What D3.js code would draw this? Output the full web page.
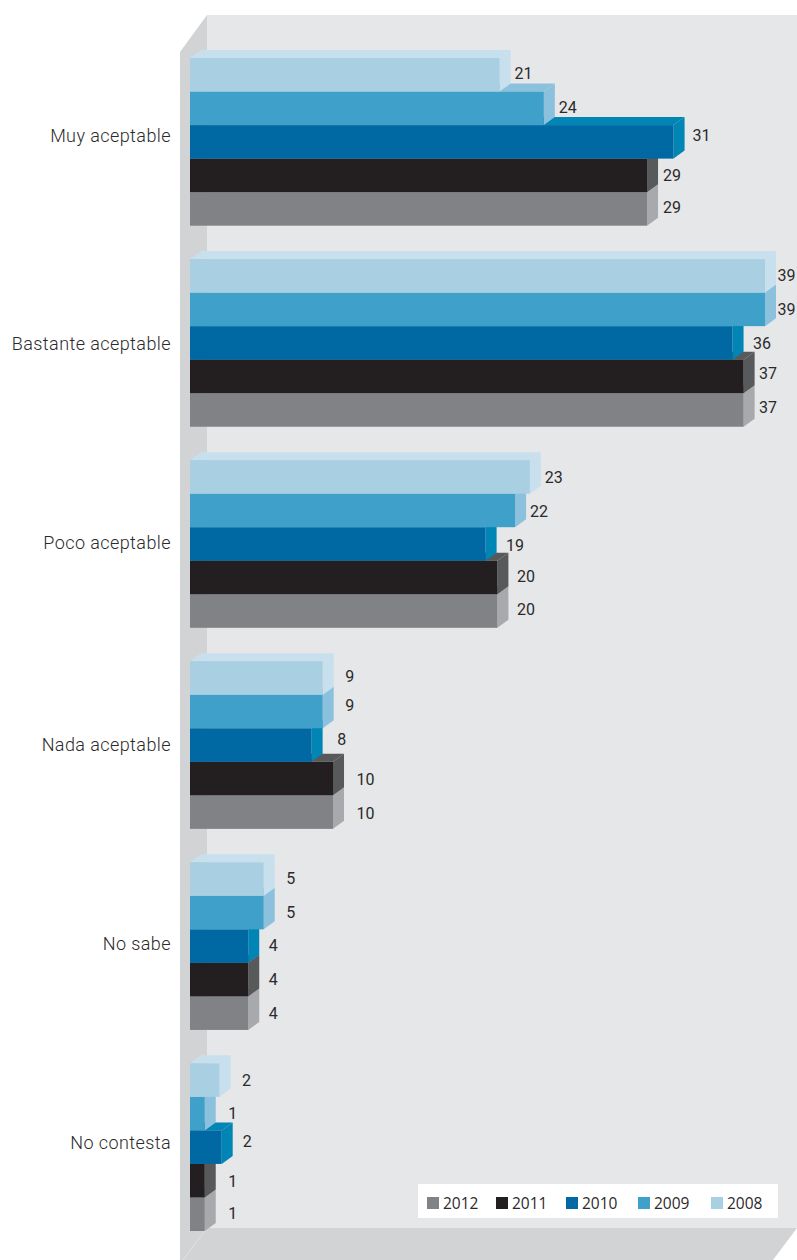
<!DOCTYPE html>
<html><head><meta charset="utf-8">
<script src="https://cdn.jsdelivr.net/npm/d3@7/dist/d3.min.js"></script>
<style>html,body{margin:0;background:#fff}svg{display:block}</style></head>
<body><svg id="c" width="797" height="1260"></svg>
<script>
const categories = ["Muy aceptable","Bastante aceptable","Poco aceptable","Nada aceptable","No sabe","No contesta"];
const years = ["2008","2009","2010","2011","2012"];
const legendYears = ["2012","2011","2010","2009","2008"];
// printed labels
const labels2008 = [21,39,23,9,5,2];
const labels2009 = [24,39,22,9,5,1];
const labels2010 = [31,36,19,8,4,2];
const labels2011 = [29,37,20,10,4,1];
const labels2012 = [29,37,20,10,4,1];
// bar lengths as drawn (the picture's bars do not always match the printed labels)
const drawn2008 = [21,39,23.05,9,5,2];
const drawn2009 = [24,39,22.05,9,5,1];
const drawn2010 = [32.8,36.8,20.05,8.25,3.95,2.15];
const drawn2011 = [31,37.55,20.85,9.7,3.95,1];
const drawn2012 = [31,37.55,20.85,9.7,3.95,1];

const labelsBy = [labels2008,labels2009,labels2010,labels2011,labels2012];
const drawnBy = [drawn2008,drawn2009,drawn2010,drawn2011,drawn2012];

// layout
const front = ["#a9cfe2","#3fa1c9","#0069a3","#231f20","#808285"];
const side  = ["#c8dfed","#8cc1de","#0085b5","#58595b","#a7a9ac"];
const legendColor = {"2012":"#808285","2011":"#231f20","2010":"#0069a3","2009":"#3fa1c9","2008":"#a9cfe2"};
const labelGap = [[15,15,19,16,16],[12.5,12.5,20.5,15.5,15.5],[15,15,20.5,19.5,19.5],[22.5,22.5,25.5,23.5,23.5],[22.5,22.5,20.5,20.5,20.5],[22.5,23.5,21,23.5,23.5]];
const labelLift = [[1,1,6,0,1],[0,0,-1,3,2],[-1,-1,-2,1,2],[1,6,6,-1,-1],[1,0,1,0,0],[0,0,6,-1,1]];
const categoryLift = [6,-1,0.5,0,2,4];
const DX=11, DY=8;

const svg = d3.select("#c");
const x = d3.scaleLinear().domain([0,39]).range([190,765]);
const y0 = d3.scaleBand().domain(categories).range([58,1231]).paddingInner(0.166).paddingOuter(0);
const y1 = d3.scaleBand().domain(years).range([0,y0.bandwidth()]);
const poly = (pts,f)=>svg.append("polygon").attr("points",pts.map(p=>p.join(",")).join(" ")).attr("fill",f);

// panel
svg.append("rect").attr("x",207).attr("y",15).attr("width",590).attr("height",1213).attr("fill","#e6e7e8");
poly([[180,52],[207,15],[207,1260],[180,1260]],"#d1d3d4");
poly([[207,1228],[797,1228],[773,1260],[183,1260]],"#d1d3d4");
svg.append("line").attr("x1",207).attr("y1",1228).attr("x2",183).attr("y2",1260).attr("stroke","#eeeeef").attr("stroke-width",.6);

// bars, lowest series first so upper fronts overlap
categories.forEach((c,g)=>{
  for(let s=years.length-1;s>=0;s--){
    const h=y1.bandwidth(), t=y0(c)+y1(years[s]), b=t+h;
    const l=x(0), r=x(drawnBy[s][g]);
    poly([[l,t],[l+DX,t-DY],[r+DX,t-DY],[r,t]],side[s]);
    poly([[r,t],[r+DX,t-DY],[r+DX,b-DY],[r,b]],side[s]);
    svg.append("rect").attr("x",l).attr("y",t).attr("width",r-l).attr("height",h).attr("fill",front[s]);
  }
});
// value labels
categories.forEach((c,g)=>{
  years.forEach((yr,s)=>{
    svg.append("text").attr("x",x(drawnBy[s][g])+labelGap[g][s])
      .attr("y",y0(c)+y1(yr)+y1.bandwidth()/2+5.5-labelLift[g][s])
      .attr("font-family","Roboto").attr("font-size",16).attr("fill","#2b2a2b").attr("text-anchor","start")
      .text(labelsBy[s][g]);
  });
});
// category axis
const yAxis = d3.axisLeft(y0).tickSize(0).tickPadding(0);
const ax = svg.append("g").attr("transform","translate(171,0)").call(yAxis);
ax.select(".domain").remove();
ax.selectAll("text").attr("font-family","Roboto").attr("font-weight",300).attr("font-size",18).attr("letter-spacing",0.42).attr("fill","#2b2a2b").attr("dy","0.32em")
  .attr("y",(d,i)=>-categoryLift[i]);

// legend
svg.append("rect").attr("x",418).attr("y",1184).attr("width",360).attr("height",34).attr("fill","#fff");
const legendX = {"2012":427,"2011":496,"2010":566,"2009":638,"2008":711};
legendYears.forEach(yr=>{
  svg.append("rect").attr("x",legendX[yr]).attr("y",1197).attr("width",12).attr("height",12).attr("fill",legendColor[yr]);
  svg.append("text").attr("x",legendX[yr]+16).attr("y",1209).attr("font-family","Open Sans").attr("font-size",15.5).attr("fill","#2b2a2b").text(yr);
});
</script></body></html>
